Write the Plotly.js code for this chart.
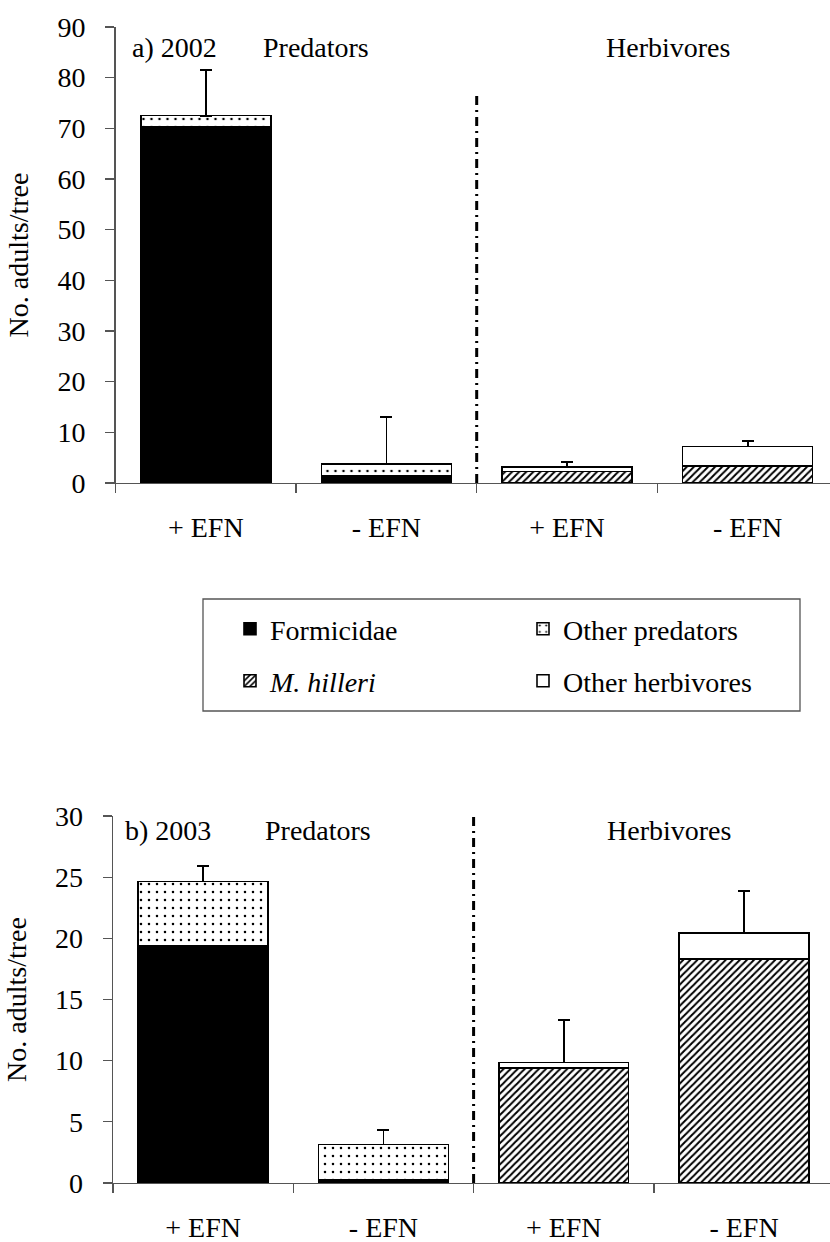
<!DOCTYPE html>
<html>
<head>
<meta charset="utf-8">
<script src="https://cdn.plot.ly/plotly-3.0.1.min.js"></script>
<style>
html,body{margin:0;padding:0;background:#fff}
#chart{width:830px;height:1242px}
</style>
</head>
<body>
<div id="chart"></div>
<script>
// ---------- data ----------
const tickLabels = ['+ EFN', '- EFN', '+ EFN', '- EFN'];
const predatorPos = [0, 1];
const herbivorePos = [2, 3];
const boundaries = [-0.5, 0.5, 1.5, 2.5];
const separatorX = 1.5;

const formicidae2002 = [70.3, 1.5];
const otherPredators2002 = [2.2, 2.2];
const predatorSE2002 = [9.0, 9.4];
const mHilleri2002 = [2.3, 3.3];
const otherHerbivores2002 = [0.8, 3.9];
const herbivoreSE2002 = [1.0, 1.1];

const formicidae2003 = [19.4, 0.25];
const otherPredators2003 = [5.25, 2.9];
const predatorSE2003 = [1.25, 1.2];
const mHilleri2003 = [9.4, 18.3];
const otherHerbivores2003 = [0.45, 2.15];
const herbivoreSE2003 = [3.45, 3.4];

const separatorTop = [77.2, 30.8];
const panelLabels = ['a) 2002', 'b) 2003'];
const groupLabels = ['Predators', 'Herbivores'];
const seriesNames = ['Formicidae', 'Other predators', '<i>M. hilleri</i>', 'Other herbivores'];
const yTitle = 'No. adults/tree';

// ---------- styling ----------
const FONT = 'Liberation Serif';
const W = 830, H = 1242;
const px = v => v / W;
const py = v => 1 - v / H;
const outline = {color: '#000', width: 1.6};
const BW = 0.72;

const styles = [
  {color: '#000', line: outline},
  {color: '#fff', line: outline, pattern: {shape: '.', fgcolor: '#000', bgcolor: '#fff', size: 8, solidity: 0.08}},
  {color: '#fff', line: outline, pattern: {shape: '/', fgcolor: '#000', bgcolor: '#fff', size: 5, solidity: 0.4}},
  {color: '#fff', line: outline}
];

function errY(se) {
  return {type: 'data', symmetric: false, array: se, arrayminus: se.map(() => 0),
          color: '#000', thickness: 1.8, width: 6};
}

function yearTraces(xa, ya, form, op, opSE, mh, oh, ohSE, legendOn) {
  return [
    {type: 'bar', x: predatorPos, y: form, name: seriesNames[0], marker: styles[0], width: BW,
     xaxis: xa, yaxis: ya, showlegend: legendOn, legend: 'legend', hoverinfo: 'y'},
    {type: 'bar', x: predatorPos, y: op, name: seriesNames[1], marker: styles[1], width: BW,
     error_y: errY(opSE), xaxis: xa, yaxis: ya, showlegend: legendOn, legend: 'legend', hoverinfo: 'y'},
    {type: 'bar', x: herbivorePos, y: mh, name: seriesNames[2], marker: styles[2], width: BW,
     xaxis: xa, yaxis: ya, showlegend: legendOn, legend: 'legend2', hoverinfo: 'y'},
    {type: 'bar', x: herbivorePos, y: oh, name: seriesNames[3], marker: styles[3], width: BW,
     error_y: errY(ohSE), xaxis: xa, yaxis: ya, showlegend: legendOn, legend: 'legend2', hoverinfo: 'y'}
  ];
}

const sepLine = (xa, ya, top) => ({
  type: 'scatter', mode: 'lines', x: [separatorX, separatorX], y: [0, top],
  xaxis: xa, yaxis: ya, showlegend: false, hoverinfo: 'skip', cliponaxis: false,
  line: {color: '#000', width: 3, dash: '9px,5px,2px,5px'}
});

const data = [
  ...yearTraces('x', 'y', formicidae2002, otherPredators2002, predatorSE2002, mHilleri2002, otherHerbivores2002, herbivoreSE2002, true),
  ...yearTraces('x2', 'y2', formicidae2003, otherPredators2003, predatorSE2003, mHilleri2003, otherHerbivores2003, herbivoreSE2003, false),
  sepLine('x', 'y', separatorTop[0]),
  sepLine('x2', 'y2', separatorTop[1])
];

const axisColor = '#555';
function xAxis(anchor, left, right) {
  return {
    anchor: anchor, domain: [px(left), 1], range: [-0.5, -0.5 + (W - left) / right],
    showline: true, linecolor: axisColor, linewidth: 1.3, zeroline: false, showgrid: false,
    tickmode: 'array', tickvals: [0, 1, 2, 3], ticktext: tickLabels, ticks: '',
    ticklabelstandoff: 19,
    tickfont: {family: FONT, size: 28, color: '#000'},
    minor: {tickmode: 'array', tickvals: boundaries, ticks: 'outside', ticklen: 9, tickwidth: 1.3, tickcolor: axisColor, showgrid: false},
    fixedrange: true
  };
}
function yAxis(anchor, top, bottom, max, dtick) {
  return {
    anchor: anchor, domain: [py(bottom), py(top)], range: [0, max],
    showline: true, linecolor: axisColor, linewidth: 1.3, zeroline: false, showgrid: false,
    tickmode: 'linear', tick0: 0, dtick: dtick, ticks: 'outside', ticklen: 9, tickwidth: 1.3, tickcolor: axisColor,
    ticklabelstandoff: 14,
    tickfont: {family: FONT, size: 28, color: '#000'},
    title: {text: yTitle, font: {family: FONT, size: 28, color: '#000'}, standoff: 20},
    fixedrange: true
  };
}

function ann(text, xCenter, y) {
  return {text: text, xref: 'paper', yref: 'paper', x: px(xCenter), y: py(y), xanchor: 'center', yanchor: 'middle',
          showarrow: false, font: {family: FONT, size: 28, color: '#000'}};
}

const legendCommon = {
  orientation: 'h', traceorder: 'normal', xanchor: 'left', yanchor: 'middle', entrywidth: 248, entrywidthmode: 'pixels',
  font: {family: FONT, size: 28, color: '#000'}, bgcolor: 'rgba(0,0,0,0)', borderwidth: 0, itemclick: false, itemdoubleclick: false
};

const layout = {
  width: W, height: H, margin: {l: 0, r: 0, t: 0, b: 0},
  paper_bgcolor: '#fff', plot_bgcolor: '#fff',
  barmode: 'stack',
  font: {family: FONT, size: 28, color: '#000'},
  xaxis: xAxis('y', 115.5, 180.6),
  yaxis: yAxis('x', 27, 483, 90, 10),
  xaxis2: xAxis('y2', 113, 180.3),
  yaxis2: yAxis('x2', 816, 1183, 30, 5),
  legend: Object.assign({x: px(230), y: py(629)}, legendCommon),
  legend2: Object.assign({x: px(230), y: py(681)}, legendCommon),
  shapes: [
    {type: 'rect', xref: 'paper', yref: 'paper', x0: px(203), x1: px(800), y0: py(599), y1: py(711),
     line: {color: '#555', width: 1.3}, fillcolor: 'rgba(0,0,0,0)'}
  ],
  annotations: [
    ann(panelLabels[0], 174, 48), ann(groupLabels[0], 316, 48), ann(groupLabels[1], 668, 48),
    ann(panelLabels[1], 168, 830), ann(groupLabels[0], 318, 830), ann(groupLabels[1], 669, 830)
  ]
};

Plotly.newPlot('chart', data, layout, {displayModeBar: false, staticPlot: true}).then(function (gd) {
  gd.querySelectorAll('text, tspan').forEach(function (t) {
    t.style.setProperty('font-family', "'Liberation Serif', 'Times New Roman', serif", 'important');
  });
});
</script>
</body>
</html>
